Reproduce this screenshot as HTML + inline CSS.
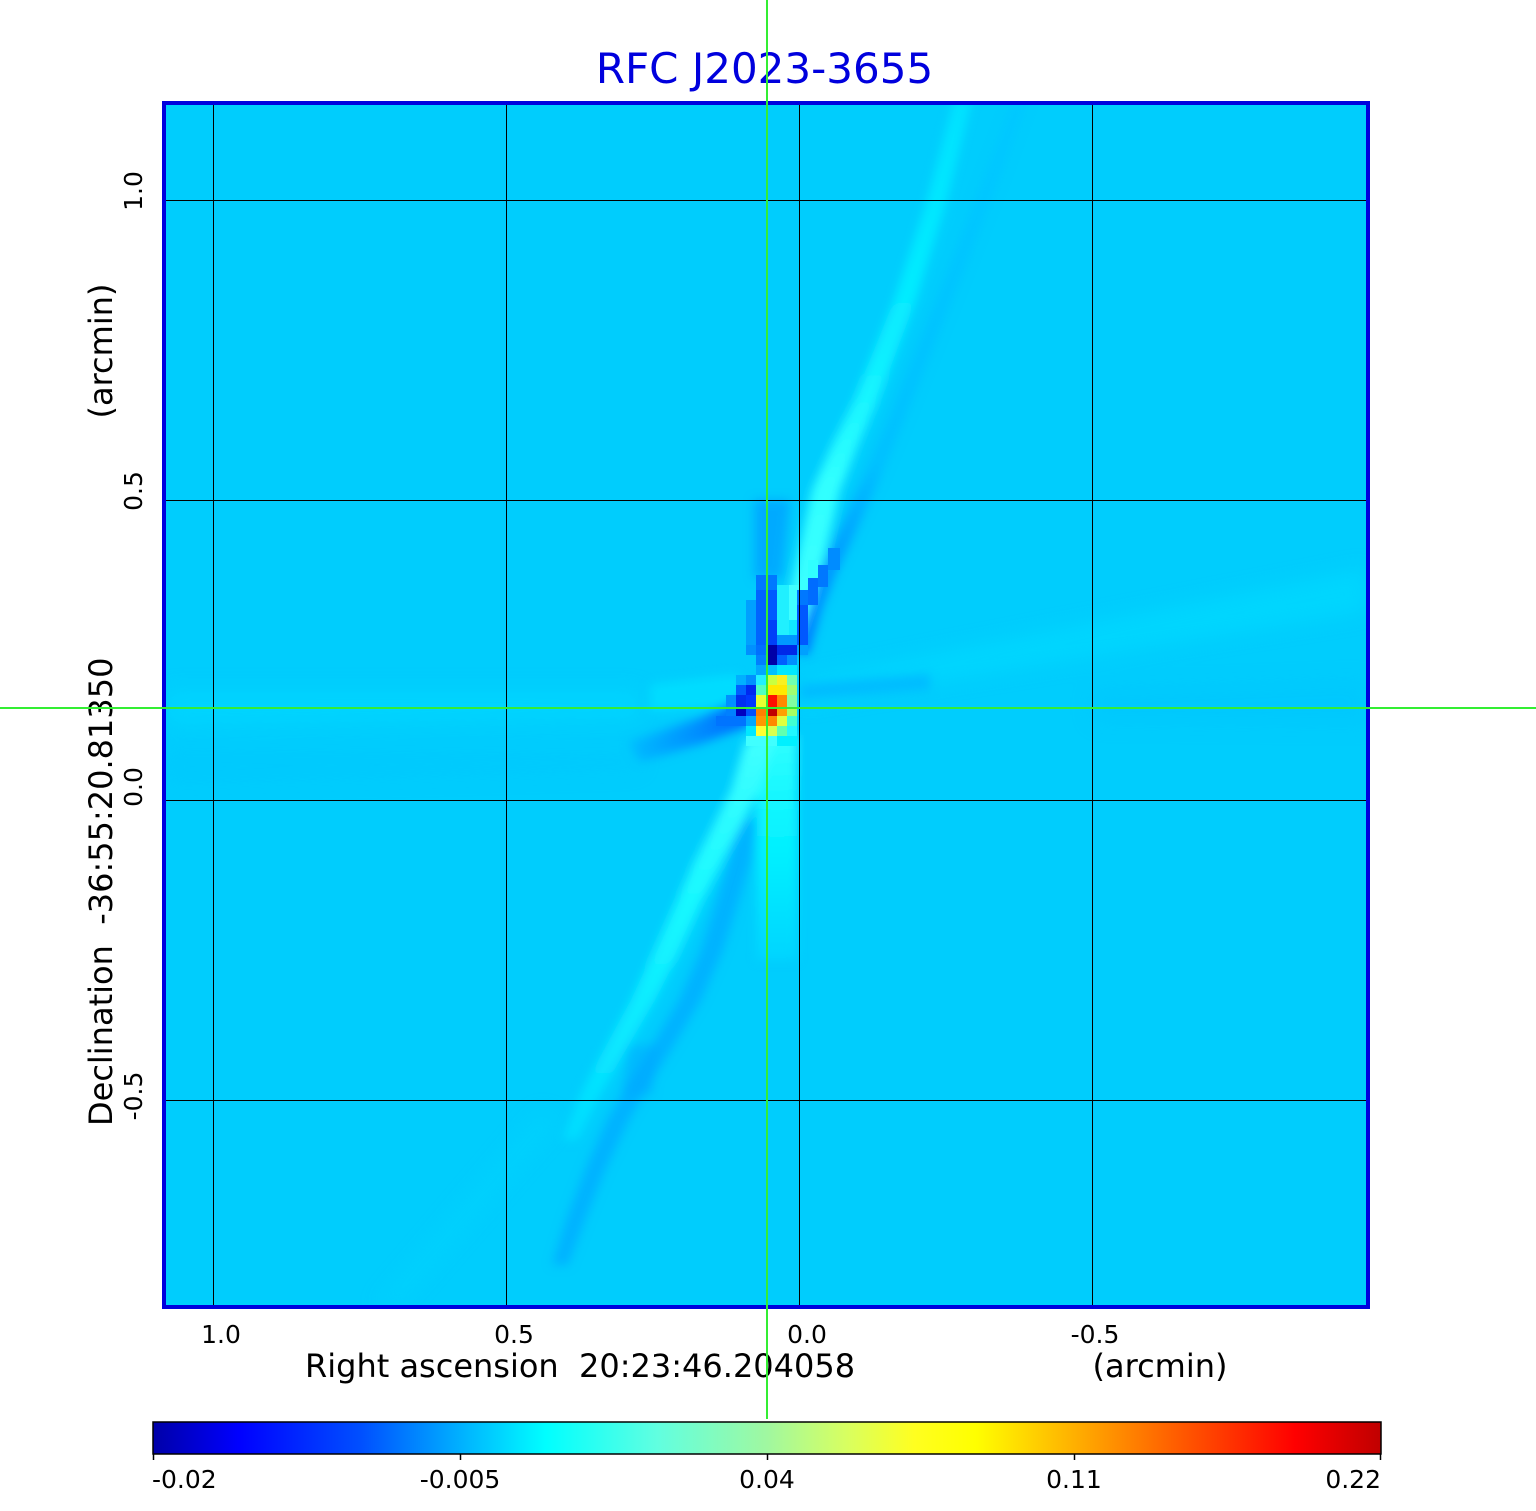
<!DOCTYPE html>
<html><head><meta charset="utf-8"><style>
html,body{margin:0;padding:0;background:#fff;}
svg{display:block;}
text{font-family:"DejaVu Sans","Liberation Sans",sans-serif;}
</style></head><body>
<svg width="1536" height="1511" viewBox="0 0 1536 1511" xmlns="http://www.w3.org/2000/svg">
<defs>
  <clipPath id="pc"><rect x="166" y="105" width="1201" height="1200"/></clipPath>
  <filter id="bl" x="-20%" y="-20%" width="140%" height="140%"><feGaussianBlur stdDeviation="5"/></filter>
  <filter id="bl2" x="-20%" y="-20%" width="140%" height="140%"><feGaussianBlur stdDeviation="10"/></filter>
  <linearGradient id="cb" x1="0" y1="0" x2="1" y2="0">
    <stop offset="0" stop-color="#0000a8"/>
    <stop offset="0.07" stop-color="#0000ff"/>
    <stop offset="0.17" stop-color="#0050ff"/>
    <stop offset="0.25" stop-color="#00b0ff"/>
    <stop offset="0.32" stop-color="#00ffff"/>
    <stop offset="0.41" stop-color="#60ffe0"/>
    <stop offset="0.5" stop-color="#a0f8a0"/>
    <stop offset="0.565" stop-color="#d8ff60"/>
    <stop offset="0.62" stop-color="#ffff20"/>
    <stop offset="0.67" stop-color="#ffff00"/>
    <stop offset="0.75" stop-color="#ffb000"/>
    <stop offset="0.83" stop-color="#ff6000"/>
    <stop offset="0.93" stop-color="#ff0000"/>
    <stop offset="1" stop-color="#c00000"/>
  </linearGradient>
  <linearGradient id="tail" x1="630" y1="0" x2="748" y2="0" gradientUnits="userSpaceOnUse">
    <stop offset="0" stop-color="#00bcff"/>
    <stop offset="0.5" stop-color="#0094ff"/>
    <stop offset="1" stop-color="#0064ff"/>
  </linearGradient>
  <linearGradient id="vcol" x1="0" y1="735" x2="0" y2="970" gradientUnits="userSpaceOnUse">
    <stop offset="0" stop-color="#30ffff"/>
    <stop offset="0.5" stop-color="#00f0ff"/>
    <stop offset="1" stop-color="#00d2ff"/>
  </linearGradient>
  <linearGradient id="neg" x1="0" y1="640" x2="0" y2="100" gradientUnits="userSpaceOnUse">
    <stop offset="0" stop-color="#40ffff"/>
    <stop offset="0.3" stop-color="#30ffff"/>
    <stop offset="0.55" stop-color="#08eeff"/>
    <stop offset="1" stop-color="#00e2ff"/>
  </linearGradient>
  <linearGradient id="swg" x1="0" y1="740" x2="0" y2="1140" gradientUnits="userSpaceOnUse">
    <stop offset="0" stop-color="#40ffff"/>
    <stop offset="0.4" stop-color="#18f8ff"/>
    <stop offset="1" stop-color="#00dcff"/>
  </linearGradient>
  <linearGradient id="ned" x1="0" y1="660" x2="0" y2="100" gradientUnits="userSpaceOnUse">
    <stop offset="0" stop-color="#0070ff"/>
    <stop offset="0.2" stop-color="#00a0ff"/>
    <stop offset="0.35" stop-color="#00c0ff"/>
    <stop offset="1" stop-color="#00c8ff"/>
  </linearGradient>
</defs>

<!-- image background -->
<rect x="166" y="105" width="1201" height="1200" fill="#00cdfd"/>

<g clip-path="url(#pc)">
  <g filter="url(#bl2)" opacity="0.6">
    <polygon points="166,690 640,690 640,720 166,726" fill="#00d9ff"/>
    <polygon points="800,680 1367,568 1367,612 800,704" fill="#00dcff"/>
    <polygon points="166,750 640,754 640,770 166,784" fill="#00c4ff" opacity="0.6"/>
    <polygon points="1092,690 1367,680 1367,725 1092,722" fill="#00c2ff" opacity="0.6"/>
    <polygon points="540,1110 560,1120 400,1305 375,1305" fill="#00d9ff" opacity="0.6"/>
  </g>

  <g filter="url(#bl)">
    <polygon points="794,650 805,610 819,575 837,535 862,480 888,420 918,345 948,270 983,180 1013,100 1028,100 999,180 964,270 934,345 904,420 879,480 854,535 835,575 821,610 808,655" fill="url(#ned)"/>
    <polygon points="774,640 788,600 799,550 812,490 832,445 854,400 894,300 927,200 954,100 972,100 947,200 916,300 878,400 858,445 840,490 826,550 812,600 798,640" fill="url(#neg)"/>
    <polygon points="754,500 790,500 782,578 754,578" fill="#00aaff"/>
    <polygon points="650,684 735,674 756,690 756,705 650,712" fill="#00e0ff" opacity="0.8"/>
    <polygon points="748,694 748,726 700,744 640,762 628,742 700,718" fill="url(#tail)"/>
    <polygon points="736,820 729,860 717,900 701,950 679,1000 649,1050 627,1085 607,1120 585,1170 566,1220 552,1265 568,1265 585,1220 605,1170 629,1120 649,1085 671,1050 701,1000 723,950 739,900 751,860 756,820" fill="#00b2ff"/>
    <polygon points="628,1045 658,1045 652,1095 622,1095" fill="#00a4ff" opacity="0.45"/>
    <rect x="757" y="735" width="40" height="225" fill="url(#vcol)"/>
    <polygon points="746,740 731,790 711,830 694,862 677,900 652,955 631,1000 601,1055 580,1095 562,1140 578,1140 600,1095 623,1055 655,1000 678,955 703,900 722,862 739,830 759,790 774,740" fill="url(#swg)"/>
    <polygon points="800,684 930,674 930,690 800,700" fill="#00bcff"/>
  </g>

  <g shape-rendering="crispEdges">
    <rect x="756" y="575" width="21" height="15" fill="#0078ff"/>
    <rect x="756" y="590" width="11" height="55" fill="#0064ff"/>
    <rect x="767" y="590" width="10" height="30" fill="#0058ff"/>
    <rect x="767" y="620" width="10" height="25" fill="#0040f8"/>
    <rect x="746" y="600" width="10" height="45" fill="#00a0ff"/>
    <rect x="777" y="585" width="12" height="50" fill="#20f0ff"/>
    <rect x="789" y="585" width="11" height="35" fill="#40ffff"/>
    <rect x="789" y="620" width="8" height="15" fill="#10e8ff"/>
    <rect x="777" y="635" width="20" height="10" fill="#0098ff"/>
    <rect x="797" y="605" width="11" height="40" fill="#0058ff"/>
    <rect x="797" y="590" width="11" height="15" fill="#0078ff"/>
    <rect x="808" y="578" width="10" height="27" fill="#006cff"/>
    <rect x="818" y="565" width="10" height="22" fill="#0078ff"/>
    <rect x="828" y="548" width="12" height="22" fill="#008cff"/>
    <rect x="808" y="560" width="10" height="18" fill="#30ffff"/>
    <rect x="746" y="645" width="10" height="10" fill="#0090ff"/>
    <rect x="756" y="645" width="11" height="10" fill="#0070ff"/>
    <rect x="767" y="645" width="10" height="20" fill="#0000a8"/>
    <rect x="777" y="645" width="20" height="10" fill="#0028e8"/>
    <rect x="797" y="645" width="11" height="10" fill="#00a0ff"/>
    <rect x="756" y="655" width="11" height="10" fill="#0080ff"/>
    <rect x="777" y="655" width="10" height="10" fill="#0060ff"/>
    <rect x="787" y="655" width="10" height="10" fill="#0090ff"/>
    <rect x="756" y="665" width="11" height="10" fill="#00a8ff"/>
    <rect x="767" y="665" width="10" height="10" fill="#00c0ff"/>
    <rect x="777" y="665" width="20" height="10" fill="#00e8ff"/>
    <rect x="736" y="675" width="10" height="10" fill="#00b0ff"/>
    <rect x="746" y="675" width="10" height="10" fill="#0090ff"/>
    <rect x="756" y="675" width="11" height="10" fill="#20f0ff"/>
    <rect x="767" y="675" width="10" height="10" fill="#c8ff40"/>
    <rect x="777" y="675" width="10" height="10" fill="#f8f020"/>
    <rect x="787" y="675" width="10" height="10" fill="#70ffb0"/>
    <rect x="736" y="685" width="10" height="10" fill="#0060ff"/>
    <rect x="746" y="685" width="10" height="10" fill="#0028f0"/>
    <rect x="756" y="685" width="11" height="10" fill="#50ffc0"/>
    <rect x="767" y="685" width="20" height="10" fill="#ffe800"/>
    <rect x="787" y="685" width="10" height="10" fill="#a0ff70"/>
    <rect x="726" y="695" width="10" height="12" fill="#0090ff"/>
    <rect x="736" y="695" width="10" height="12" fill="#0030f0"/>
    <rect x="746" y="695" width="10" height="12" fill="#0038ff"/>
    <rect x="756" y="695" width="11" height="12" fill="#e8ff30"/>
    <rect x="767" y="695" width="10" height="12" fill="#ff1000"/>
    <rect x="777" y="695" width="10" height="12" fill="#ff8800"/>
    <rect x="787" y="695" width="10" height="12" fill="#80ffa0"/>
    <rect x="726" y="707" width="10" height="9" fill="#0080ff"/>
    <rect x="736" y="707" width="10" height="9" fill="#0000c0"/>
    <rect x="746" y="707" width="10" height="9" fill="#0050ff"/>
    <rect x="756" y="707" width="11" height="9" fill="#ff8000"/>
    <rect x="767" y="707" width="10" height="9" fill="#c00000"/>
    <rect x="777" y="707" width="10" height="9" fill="#ffa000"/>
    <rect x="787" y="707" width="10" height="9" fill="#a8ff60"/>
    <rect x="716" y="716" width="30" height="10" fill="#0074ff"/>
    <rect x="746" y="716" width="10" height="10" fill="#00a8ff"/>
    <rect x="756" y="716" width="11" height="10" fill="#ff9800"/>
    <rect x="767" y="716" width="10" height="10" fill="#ff8800"/>
    <rect x="777" y="716" width="10" height="10" fill="#e0ff40"/>
    <rect x="787" y="716" width="10" height="10" fill="#40ffd0"/>
    <rect x="746" y="726" width="10" height="10" fill="#00e8ff"/>
    <rect x="756" y="726" width="11" height="10" fill="#ffff30"/>
    <rect x="767" y="726" width="10" height="10" fill="#d8ff50"/>
    <rect x="777" y="726" width="10" height="10" fill="#60ffb0"/>
    <rect x="787" y="726" width="10" height="10" fill="#20f8ff"/>
    <rect x="746" y="736" width="31" height="10" fill="#40ffff"/>
    <rect x="777" y="736" width="20" height="10" fill="#00f0ff"/>
  </g>
</g>

<g stroke="#000" stroke-width="1" shape-rendering="crispEdges">
  <line x1="213.5" y1="105" x2="213.5" y2="1305"/>
  <line x1="506.5" y1="105" x2="506.5" y2="1305"/>
  <line x1="799.5" y1="105" x2="799.5" y2="1305"/>
  <line x1="1092.5" y1="105" x2="1092.5" y2="1305"/>
  <line x1="166" y1="200.5" x2="1367" y2="200.5"/>
  <line x1="166" y1="500.5" x2="1367" y2="500.5"/>
  <line x1="166" y1="800.5" x2="1367" y2="800.5"/>
  <line x1="166" y1="1100.5" x2="1367" y2="1100.5"/>
</g>

<rect x="164" y="103" width="1204" height="1204" fill="none" stroke="#0000dd" stroke-width="4"/>

<text x="764.5" y="83" font-size="42" fill="#0000dd" text-anchor="middle">RFC J2023-3655</text>

<g font-size="25" fill="#000" text-anchor="middle">
  <text x="221" y="1343">1.0</text>
  <text x="514" y="1343">0.5</text>
  <text x="807" y="1343">0.0</text>
  <text x="1095" y="1343">-0.5</text>
</g>
<g font-size="25" fill="#000" text-anchor="middle">
  <text transform="translate(142,191) rotate(-90)">1.0</text>
  <text transform="translate(142,491) rotate(-90)">0.5</text>
  <text transform="translate(142,787) rotate(-90)">0.0</text>
  <text transform="translate(142,1096) rotate(-90)">-0.5</text>
</g>

<text x="305" y="1377" font-size="32" fill="#000" xml:space="preserve">Right ascension  20:23:46.204058</text>
<text x="1160" y="1377" font-size="32" fill="#000" text-anchor="middle">(arcmin)</text>
<text transform="translate(112,1126) rotate(-90)" font-size="32" fill="#000" xml:space="preserve">Declination  -36:55:20.81350</text>
<text transform="translate(112,351) rotate(-90)" font-size="32" fill="#000" text-anchor="middle">(arcmin)</text>

<rect x="153" y="1422" width="1228" height="32" fill="url(#cb)" stroke="#000" stroke-width="1.5"/>
<g stroke="#000" stroke-width="1.5">
  <line x1="153.5" y1="1454" x2="153.5" y2="1460"/>
  <line x1="460.5" y1="1454" x2="460.5" y2="1460"/>
  <line x1="767.5" y1="1454" x2="767.5" y2="1460"/>
  <line x1="1074.5" y1="1454" x2="1074.5" y2="1460"/>
  <line x1="1380.5" y1="1454" x2="1380.5" y2="1460"/>
</g>
<g font-size="25" fill="#000">
  <text x="152" y="1488">-0.02</text>
  <text x="460" y="1488" text-anchor="middle">-0.005</text>
  <text x="767" y="1488" text-anchor="middle">0.04</text>
  <text x="1074" y="1488" text-anchor="middle">0.11</text>
  <text x="1381" y="1488" text-anchor="end">0.22</text>
</g>

<g shape-rendering="crispEdges" fill="#33ee33">
  <rect x="766" y="0" width="2" height="1419"/>
  <rect x="0" y="707" width="1536" height="2"/>
</g>
</svg>
</body></html>
